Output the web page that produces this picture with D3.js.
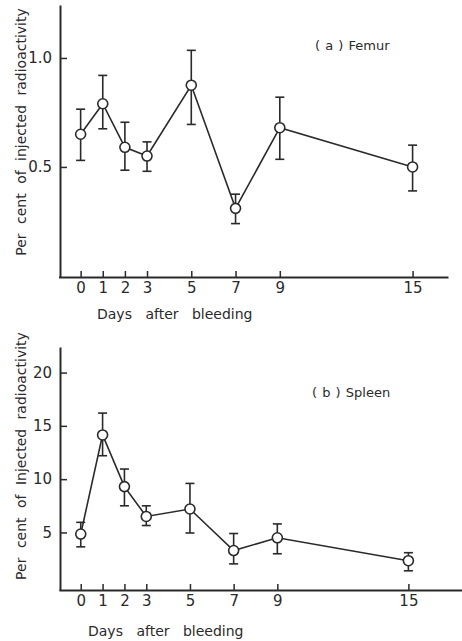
<!DOCTYPE html>
<html>
<head>
<meta charset="utf-8">
<script src="https://cdnjs.cloudflare.com/ajax/libs/d3/7.8.5/d3.min.js"></script>
<style>
  body { margin: 0; background: #fff; }
  text { font-family: "DejaVu Sans", sans-serif; fill: #2a2a2a; }
</style>
</head>
<body>
<script>
// days after bleeding
var days = [0, 1, 2, 3, 5, 7, 9, 15];

// (a) femur, per cent of injected radioactivity
var femurMean = [0.65, 0.79, 0.59, 0.55, 0.875, 0.31, 0.68, 0.50];
var femurHigh = [0.765, 0.92, 0.705, 0.615, 1.035, 0.375, 0.82, 0.60];
var femurLow  = [0.53, 0.675, 0.485, 0.48, 0.695, 0.24, 0.535, 0.39];

// (b) spleen
var spleenMean = [4.85, 14.15, 9.3, 6.5, 7.2, 3.3, 4.5, 2.35];
var spleenHigh = [5.95, 16.2, 10.95, 7.5, 9.6, 4.9, 5.8, 3.1];
var spleenLow  = [3.65, 12.2, 7.5, 5.65, 4.95, 2.05, 3.0, 1.4];

var femurTicks = [0.5, 1.0];
var spleenTicks = [5, 10, 15, 20];

var ink = "#2a2a2a";

var svg = d3.select("body").append("svg")
    .attr("width", 462).attr("height", 641);

function panel(opt) {
  var x = d3.scaleLinear().domain(opt.xDomain).range(opt.xRange);
  var y = d3.scaleLinear().domain(opt.yDomain).range(opt.yRange);
  var g = svg.append("g");

  var xAxis = g.append("g")
      .attr("transform", "translate(0," + y(opt.yDomain[0]) + ")")
      .call(d3.axisBottom(x).tickValues(days).tickSizeInner(-6).tickSizeOuter(0).tickPadding(5));
  var yAxis = g.append("g")
      .attr("transform", "translate(" + opt.yAxisX + ",0)")
      .call(d3.axisLeft(y).tickValues(opt.yTicks).tickFormat(opt.fmt).tickSizeInner(-7).tickSizeOuter(0).tickPadding(8));

  [xAxis, yAxis].forEach(function (a) {
    a.select(".domain").attr("stroke", ink).attr("stroke-width", 2);
    a.selectAll(".tick line").attr("stroke", ink).attr("stroke-width", 1.5);
    a.selectAll(".tick text").attr("fill", ink).style("font-size", "15px")
      .style("font-family", "'DejaVu Sans', sans-serif");
  });

  g.append("text")
      .attr("x", opt.xLabelX).attr("y", opt.xLabelY)
      .style("font-size", "14px").style("word-spacing", "9px")
      .text("Days after bleeding");

  g.append("text")
      .attr("transform", "translate(26," + opt.yLabelMid + ") rotate(-90)")
      .attr("text-anchor", "middle")
      .style("font-size", "14px").style("word-spacing", "5px")
      .text("Per cent of " + opt.injected + " radioactivity");

  g.append("text")
      .attr("x", opt.titleX).attr("y", opt.titleY)
      .style("font-size", "13px").style("word-spacing", "1px")
      .text(opt.title);

  var pts = days.map(function (d, i) {
    return { d: d, m: opt.mean[i], hi: opt.high[i], lo: opt.low[i] };
  });

  g.append("path")
      .datum(pts)
      .attr("fill", "none").attr("stroke", ink).attr("stroke-width", 1.6)
      .attr("d", d3.line().x(function (p) { return x(p.d); }).y(function (p) { return y(p.m); }));

  var eb = g.selectAll(".eb").data(pts).enter().append("g");
  eb.append("line")
      .attr("x1", function (p) { return x(p.d); }).attr("x2", function (p) { return x(p.d); })
      .attr("y1", function (p) { return y(p.hi); }).attr("y2", function (p) { return y(p.lo); })
      .attr("stroke", ink).attr("stroke-width", 1.6);
  ["hi", "lo"].forEach(function (k) {
    eb.append("line")
        .attr("x1", function (p) { return x(p.d) - 4.5; }).attr("x2", function (p) { return x(p.d) + 4.5; })
        .attr("y1", function (p) { return y(p[k]); }).attr("y2", function (p) { return y(p[k]); })
        .attr("stroke", ink).attr("stroke-width", 1.6);
  });
  eb.append("circle")
      .attr("cx", function (p) { return x(p.d); }).attr("cy", function (p) { return y(p.m); })
      .attr("r", 5).attr("fill", "#fff").attr("stroke", ink).attr("stroke-width", 1.6);
}

panel({
  xDomain: [-1, 16.6], xRange: [58.5, 448],
  yDomain: [-0.005, 1.243], yRange: [277, 5], yAxisX: 60,
  yTicks: femurTicks, fmt: d3.format(".1f"),
  mean: femurMean, high: femurHigh, low: femurLow,
  xLabelX: 97, xLabelY: 319,
  yLabelMid: 132, injected: "injected",
  title: "( a ) Femur", titleX: 315, titleY: 50
});

panel({
  xDomain: [-1, 17.5], xRange: [58.9, 463],
  yDomain: [-0.4, 22.4], yRange: [590, 347], yAxisX: 60,
  yTicks: spleenTicks, fmt: d3.format("d"),
  mean: spleenMean, high: spleenHigh, low: spleenLow,
  xLabelX: 88, xLabelY: 636,
  yLabelMid: 456, injected: "Injected",
  title: "( b ) Spleen", titleX: 312, titleY: 397
});
</script>
</body>
</html>
